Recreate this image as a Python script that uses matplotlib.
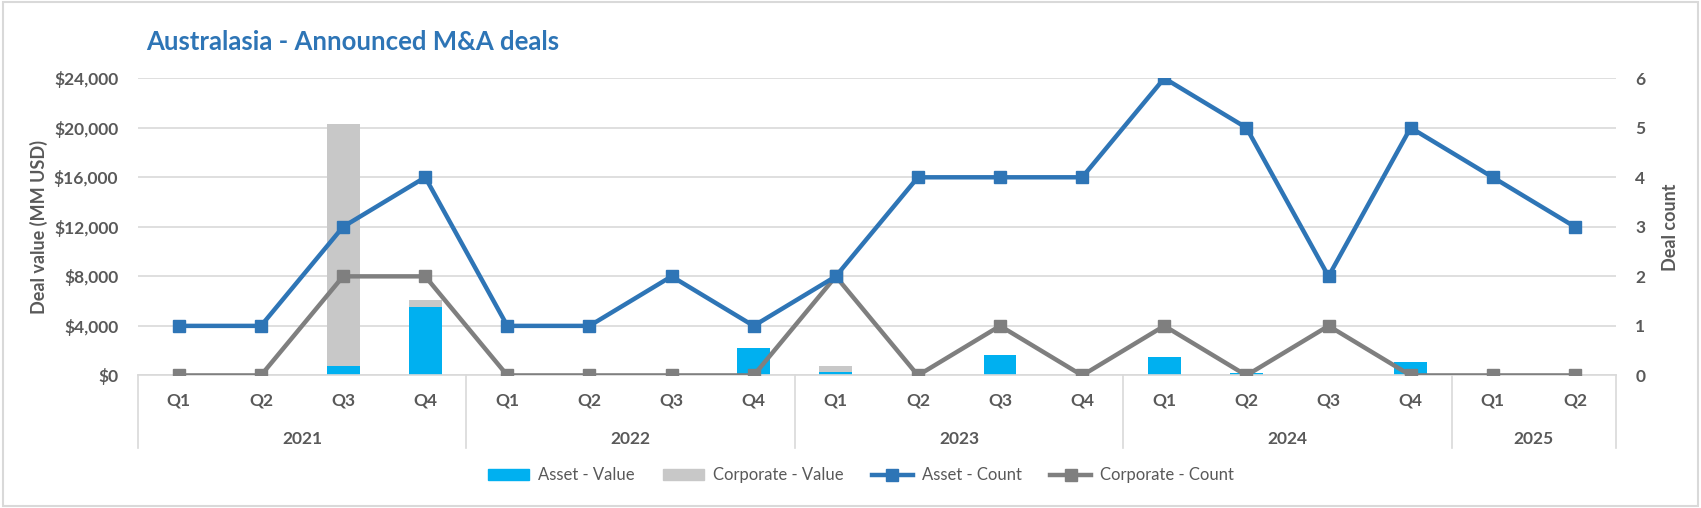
import numpy as np
import matplotlib
matplotlib.use("Agg")
from matplotlib import pyplot as plt
from matplotlib.patches import Patch, Rectangle
from matplotlib.lines import Line2D
from matplotlib.transforms import blended_transform_factory

plt.rcParams['font.family'] = ['Lato', 'DejaVu Sans']

quarters = ['Q1', 'Q2', 'Q3', 'Q4'] * 4 + ['Q1', 'Q2']
years = ['2021', '2022', '2023', '2024', '2025']
year_sizes = [4, 4, 4, 4, 2]

asset_value = [0, 0, 800, 5500, 0, 0, 0, 2200, 250, 0, 1650, 0, 1500, 200, 0, 1100, 0, 0]
corporate_value = [0, 0, 19500, 600, 0, 0, 0, 0, 550, 0, 0, 0, 0, 0, 0, 0, 0, 0]
asset_count = [1, 1, 3, 4, 1, 1, 2, 1, 2, 4, 4, 4, 6, 5, 2, 5, 4, 3]
corporate_count = [0, 0, 2, 2, 0, 0, 0, 0, 2, 0, 1, 0, 1, 0, 1, 0, 0, 0]

c_asset_bar = '#00B0F0'
c_corp_bar = '#C8C8C8'
c_asset_line = '#2E75B6'
c_corp_line = '#7F7F7F'
c_text = '#595959'
c_grid = '#D9D9D9'

fig = plt.figure(figsize=(17.01, 5.08), dpi=100)
fig.patches.append(Rectangle((0.002, 0.004), 0.996, 0.992, transform=fig.transFigure,
                             fill=False, edgecolor='#D9D9D9', linewidth=1.5))
ax = fig.add_axes([0.081, 0.261, 0.869, 0.585])
x = np.arange(len(quarters))

ax.bar(x, asset_value, width=0.4, color=c_asset_bar, zorder=2)
ax.bar(x, corporate_value, width=0.4, bottom=asset_value, color=c_corp_bar, zorder=2)
ax.set_ylim(0, 24000)
ax.set_xlim(-0.5, len(quarters) - 0.5)
ax.set_yticks(np.arange(0, 24001, 4000))
ax.set_yticklabels(['${:,}'.format(v) for v in range(0, 24001, 4000)])
ax.grid(axis='y', color=c_grid, linewidth=1.2, zorder=0)
ax.set_axisbelow(True)
for s in ['left', 'right', 'top']:
    ax.spines[s].set_visible(False)
ax.spines['bottom'].set_color(c_grid)
ax.spines['bottom'].set_linewidth(1.2)
ax.tick_params(axis='y', length=0, labelsize=12.5, labelcolor=c_text, pad=14)
ax.tick_params(axis='x', length=0, labelsize=12.5, labelcolor=c_text, pad=12)
ax.set_xticks(x)
ax.set_xticklabels(quarters, fontweight='bold')
for lab in ax.get_yticklabels():
    lab.set_fontweight('bold')
ax.set_ylabel('Deal value (MM USD)', fontsize=13, color=c_text, fontweight='bold', labelpad=4)

ax2 = ax.twinx()
ax2.plot(x, asset_count, color=c_asset_line, linewidth=3.2, marker='s', markersize=8, zorder=4)
ax2.plot(x, corporate_count, color=c_corp_line, linewidth=3.2, marker='s', markersize=8, zorder=3)
ax2.set_ylim(0, 6)
ax2.set_yticks(range(0, 7))
for s in ['left', 'right', 'top', 'bottom']:
    ax2.spines[s].set_visible(False)
ax2.tick_params(axis='y', length=0, labelsize=12.5, labelcolor=c_text, pad=14)
for lab in ax2.get_yticklabels():
    lab.set_fontweight('bold')
ax2.set_ylabel('Deal count', fontsize=13, color=c_text, fontweight='bold',
               rotation=90, labelpad=12)

# year groups under the quarter labels
tr = blended_transform_factory(ax.transData, ax.transAxes)
start = -0.5
bounds = [start]
for yr, n in zip(years, year_sizes):
    ax.text(start + n / 2, -0.215, yr, transform=tr, ha='center', va='center',
            fontsize=12.5, fontweight='bold', color=c_text)
    start += n
    bounds.append(start)
for b in bounds:
    ax.plot([b, b], [0, -0.245], transform=tr, color=c_grid, linewidth=1.2, clip_on=False)

fig.text(0.086, 0.918, 'Australasia - Announced M&A deals', fontsize=18.5, fontweight='bold',
         color=c_asset_line, ha='left', va='center')

handles = [Patch(color=c_asset_bar), Patch(color=c_corp_bar),
           Line2D([], [], color=c_asset_line, linewidth=3.2, marker='s', markersize=8),
           Line2D([], [], color=c_corp_line, linewidth=3.2, marker='s', markersize=8)]
labels = ['Asset - Value', 'Corporate - Value', 'Asset - Count', 'Corporate - Count']
fig.legend(handles, labels, loc='center', bbox_to_anchor=(0.506, 0.064), ncol=4,
           frameon=False, fontsize=12, labelcolor=c_text, handlelength=2.5,
           columnspacing=1.7, handletextpad=0.5)

fig.savefig('out.png', dpi=100)
